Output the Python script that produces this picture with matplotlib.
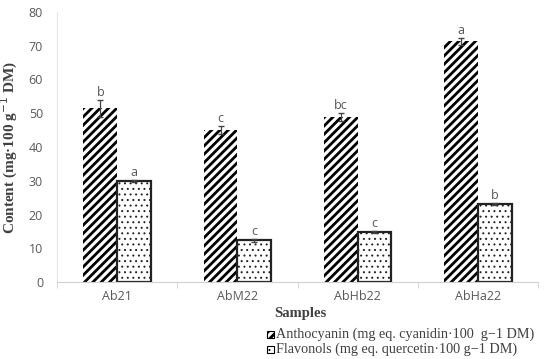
import matplotlib
matplotlib.use("Agg")
import matplotlib.pyplot as plt
import numpy as np
from matplotlib.patches import Rectangle

categories = ["Ab21", "AbM22", "AbHb22", "AbHa22"]
anthocyanin = [51.5, 45.0, 49.0, 71.3]
anthocyanin_err = [2.5, 1.2, 1.2, 1.0]
flavonols = [30.0, 12.3, 14.7, 23.0]
flavonols_err = [0.3, 0.3, 0.3, 0.3]
anth_letters = ["b", "c", "bc", "a"]
flav_letters = ["a", "c", "c", "b"]
yticks = [0, 10, 20, 30, 40, 50, 60, 70, 80]

fig = plt.figure(figsize=(5.5, 3.59), dpi=100)
ax = fig.add_axes([57/550, 1-282/359, (538-57)/550, (282-12)/359])

x = np.arange(len(categories))
w = 0.28
plt.rcParams['hatch.linewidth'] = 2.0
b1 = ax.bar(x - w/2, anthocyanin, w, color="white", edgecolor="black", hatch="////", linewidth=0)
plt.rcParams['hatch.linewidth'] = 0.7
b2 = ax.bar(x + w/2, flavonols, w, color="white", edgecolor="#222222", hatch="...", linewidth=1.6)

ax.errorbar(x - w/2, anthocyanin, yerr=anthocyanin_err, fmt="none", ecolor="#444444", elinewidth=0.9, capsize=2.5)
ax.errorbar(x + w/2, flavonols, yerr=flavonols_err, fmt="none", ecolor="#444444", elinewidth=0.9, capsize=2.5)

for xi, v, e, l in zip(x - w/2, anthocyanin, anthocyanin_err, anth_letters):
    ax.text(xi, v + e + 0.2, l, ha="center", va="bottom", fontsize=9, color="#555555", family="Open Sans")
for xi, v, e, l in zip(x + w/2, flavonols, flavonols_err, flav_letters):
    ax.text(xi, v + e + 0.3, l, ha="center", va="bottom", fontsize=9, color="#555555", family="Open Sans")

ax.set_xlim(-0.5, len(categories) - 0.5)
ax.set_ylim(0, 80)
ax.set_yticks(yticks)
ax.set_xticks(x)
ax.set_xticklabels(categories)
ax.set_xticks(np.arange(-0.5, len(categories), 1.0), minor=True)
ax.tick_params(axis="y", length=0, labelsize=9, labelcolor="#595959", pad=10)
ax.tick_params(axis="x", which="major", length=0, labelsize=9, labelcolor="#595959", pad=6)
ax.tick_params(axis="x", which="minor", length=4, color="#d0d0d0")
for lab in ax.get_xticklabels() + ax.get_yticklabels():
    lab.set_family("Open Sans")
for s in ["top", "right"]:
    ax.spines[s].set_visible(False)
ax.spines["left"].set_color("#e6e6e6")
ax.spines["bottom"].set_color("#d0d0d0")

ax.set_ylabel("Content (mg·100 g$^{-1}$ DM)", fontsize=11, fontweight="bold", family="Liberation Serif", color="#404040", labelpad=6)
fig.text(300/550, 1-313/359, "Samples", ha="center", va="center", fontsize=10.5, fontweight="bold", family="Liberation Serif", color="#404040")

# legend
leg_items = [("////", 2.0, "Anthocyanin (mg eq. cyanidin·100  g\u22121 DM)"),
             ("...", 0.7, "Flavonols (mg eq. quercetin·100 g\u22121 DM)")]
for i, (h, lw, lab) in enumerate(leg_items):
    yy = 1 - (334 + 15*i)/359
    plt.rcParams['hatch.linewidth'] = lw
    r = Rectangle((267/550, yy - 3.5/359), 7/550, 7/359, transform=fig.transFigure,
                  facecolor="white", edgecolor="black", hatch=h, linewidth=0.8)
    fig.patches.append(r)
    fig.text(276/550, yy, lab, ha="left", va="center", fontsize=10.2, family="Liberation Serif", color="#404040")

fig.savefig("out.png", dpi=100)
